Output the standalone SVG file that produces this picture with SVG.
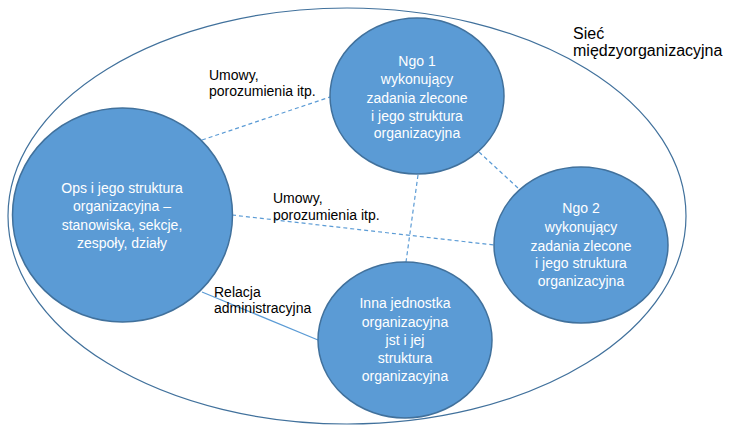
<svg xmlns="http://www.w3.org/2000/svg" width="732" height="432" viewBox="0 0 732 432">
<style>
.node{fill:#5B9BD5;stroke:#41719C;stroke-width:1.5}
.nt{font-family:"Liberation Sans",Arial,sans-serif;font-size:14px;fill:#fff;text-anchor:middle}
.lbl{font-family:"Liberation Sans",Arial,sans-serif;font-size:14px;fill:#000}
.dash{stroke:#5B9BD5;stroke-width:1.2;stroke-dasharray:4 3;fill:none}
.solid{stroke:#5B9BD5;stroke-width:1.2;fill:none}
</style>
<rect width="732" height="432" fill="#fff"/>
<g id="network">
<ellipse cx="347" cy="216" rx="339" ry="208" fill="none" stroke="#41719C" stroke-width="1.2"/>
<text class="lbl" style="font-size:16px" x="573" y="39">Sieć</text>
<text class="lbl" style="font-size:16px" x="573" y="56">międzyorganizacyjna</text>
</g>
<g id="connectors">
<line class="dash" x1="202" y1="140" x2="330" y2="97"/>
<line class="dash" x1="479" y1="152" x2="518" y2="188"/>
<line class="dash" x1="418" y1="175" x2="406" y2="262"/>
<line class="dash" x1="232" y1="215" x2="494" y2="245"/>
<line class="solid" x1="202" y1="292" x2="318" y2="340"/>
<text class="lbl" x="209" y="80">Umowy,</text>
<text class="lbl" x="209" y="96">porozumienia itp.</text>
<text class="lbl" x="273" y="203">Umowy,</text>
<text class="lbl" x="273" y="220">porozumienia itp.</text>
<text class="lbl" x="214" y="297">Relacja</text>
<text class="lbl" x="214" y="313">administracyjna</text>
</g>
<g id="ops">
<ellipse class="node" cx="122.5" cy="215" rx="110" ry="107"/>
<text class="nt" x="122" y="193">Ops i jego struktura</text>
<text class="nt" x="122" y="211">organizacyjna –</text>
<text class="nt" x="122" y="230">stanowiska, sekcje,</text>
<text class="nt" x="122" y="248">zespoły, działy</text>
</g>
<g id="ngo1">
<ellipse class="node" cx="417" cy="96" rx="87" ry="78"/>
<text class="nt" x="417" y="66">Ngo 1</text>
<text class="nt" x="417" y="84">wykonujący</text>
<text class="nt" x="417" y="103">zadania zlecone</text>
<text class="nt" x="417" y="121">i jego struktura</text>
<text class="nt" x="417" y="138">organizacyjna</text>
</g>
<g id="ngo2">
<ellipse class="node" cx="581" cy="245" rx="87" ry="78"/>
<text class="nt" x="581" y="213">Ngo 2</text>
<text class="nt" x="581" y="232">wykonujący</text>
<text class="nt" x="581" y="251">zadania zlecone</text>
<text class="nt" x="581" y="268">i jego struktura</text>
<text class="nt" x="581" y="286">organizacyjna</text>
</g>
<g id="inna">
<ellipse class="node" cx="405" cy="340" rx="87" ry="78"/>
<text class="nt" x="405" y="308">Inna jednostka</text>
<text class="nt" x="405" y="327">organizacyjna</text>
<text class="nt" x="405" y="345">jst i jej</text>
<text class="nt" x="405" y="363">struktura</text>
<text class="nt" x="405" y="381">organizacyjna</text>
</g>
</svg>
